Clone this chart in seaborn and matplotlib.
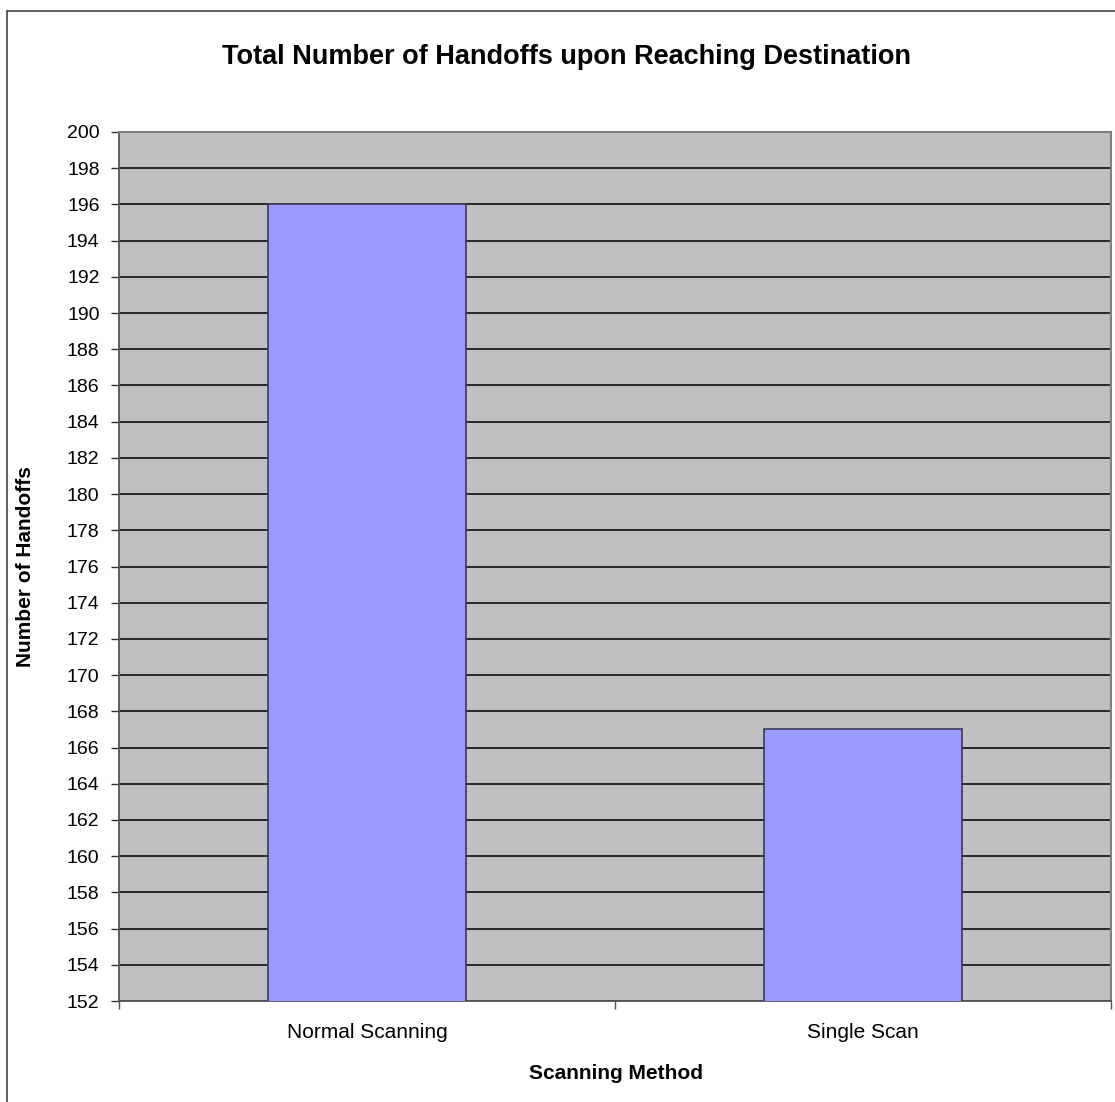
import matplotlib
matplotlib.use('Agg')
import matplotlib.pyplot as plt
import seaborn as sns
import pandas as pd
from matplotlib.lines import Line2D

# Datos del grafico
metodos = ['Normal Scanning', 'Single Scan']
handoffs = [196, 167]
y_ticks = list(range(152, 201, 2))

df = pd.DataFrame({'metodo': metodos, 'handoffs': handoffs})

sns.set_style('white')
plt.rcParams['font.family'] = ['Liberation Sans', 'DejaVu Sans']
plt.rcParams['text.color'] = 'black'
plt.rcParams['axes.labelcolor'] = 'black'
plt.rcParams['xtick.color'] = 'black'
plt.rcParams['ytick.color'] = 'black'

fig = plt.figure(figsize=(11.15, 11.02), dpi=100)
ax = fig.add_axes([119 / 1115, 1 - 1001 / 1102, 992 / 1115, 869 / 1102])
ax.set_facecolor('#C0C0C0')

sns.barplot(data=df, x='metodo', y='handoffs', color='#9999FF', width=0.4,
            edgecolor='#3a3a55', linewidth=1.2, saturation=1, ax=ax, zorder=3)

ax.set_ylim(152, 200)
ax.set_xlim(-0.5, 1.5)
ax.set_yticks(y_ticks)
ax.set_yticklabels([str(v) for v in y_ticks])
ax.yaxis.grid(True, color='black', linewidth=1.1, zorder=1)
ax.set_axisbelow(True)

# marcas de separacion entre categorias (estilo Excel)
ax.set_xticks([-0.5, 0.5, 1.5], minor=True)
ax.tick_params(axis='x', which='minor', length=6, width=1, color='#555555', bottom=True)
ax.tick_params(axis='x', which='major', length=0, pad=16, labelsize=15, labelcolor='black')
ax.tick_params(axis='y', which='major', length=6, width=1, color='#333333', left=True,
               pad=8, labelsize=14, labelcolor='black')

for lado in ['top', 'right']:
    ax.spines[lado].set_color('#808080')
    ax.spines[lado].set_linewidth(1.5)
for lado in ['left', 'bottom']:
    ax.spines[lado].set_color('#555555')
    ax.spines[lado].set_linewidth(1.3)

ax.set_xlabel('Scanning Method', fontsize=15, fontweight='bold', color='black')
ax.set_ylabel('Number of Handoffs', fontsize=15, fontweight='bold', color='black')
ax.xaxis.set_label_coords(497 / 992, -63 / 869)
ax.yaxis.set_label_coords(-84 / 992, 0.5)

fig.text(566 / 1115, 1 - 57 / 1102, 'Total Number of Handoffs upon Reaching Destination',
         ha='center', va='center', fontsize=19.5, fontweight='bold', color='black')

# marco exterior del grafico
fig.add_artist(Line2D([7 / 1115, 7 / 1115], [0, 1 - 11 / 1102], transform=fig.transFigure,
                      color='#444444', linewidth=1.2))
fig.add_artist(Line2D([7 / 1115, 1], [1 - 11 / 1102, 1 - 11 / 1102], transform=fig.transFigure,
                      color='#444444', linewidth=1.2))

fig.savefig('out.png', dpi=100, facecolor='white')
